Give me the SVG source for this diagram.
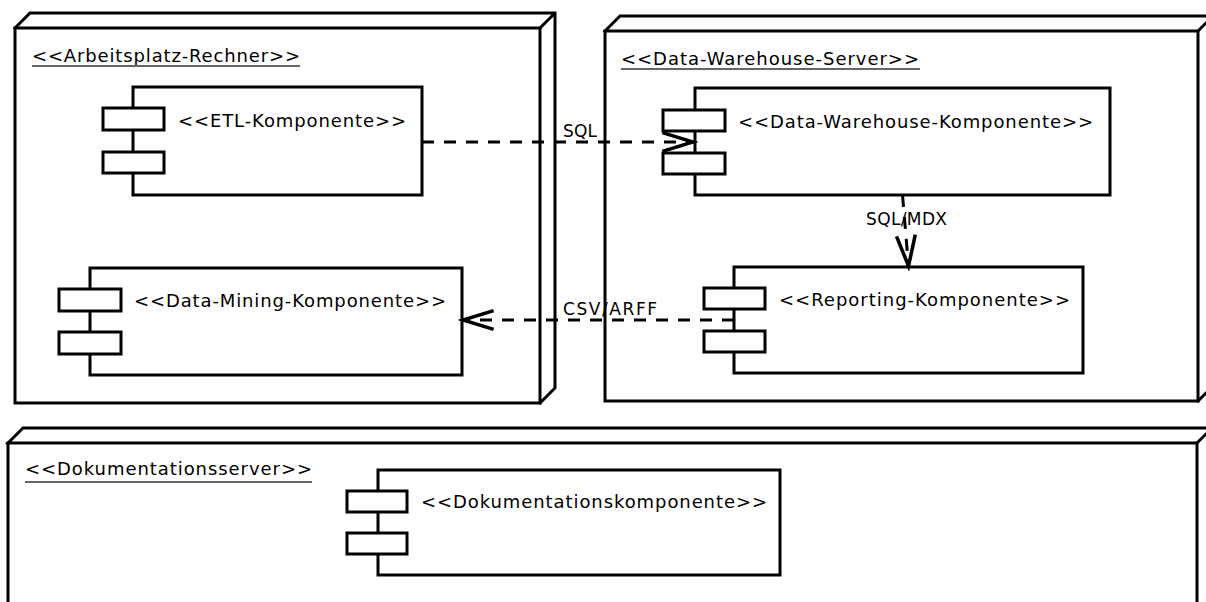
<svg xmlns="http://www.w3.org/2000/svg" width="1206" height="602" viewBox="0 0 1206 602">
  <defs>
    <style>
      .node { fill: #ffffff; stroke: #000000; stroke-width: 3; stroke-linejoin: miter; }
      .comp { fill: #ffffff; stroke: #000000; stroke-width: 3; }
      .stereo { font-family: "DejaVu Sans", Verdana, sans-serif; font-size: 18px; fill: #000000; }
      .uline { stroke: #666666; stroke-width: 2; }
      .ctext { font-family: "DejaVu Sans", Verdana, sans-serif; font-size: 18px; fill: #000000; }
      .label { font-family: "DejaVu Sans", Verdana, sans-serif; font-size: 17px; fill: #000000; }
      .dep { fill: none; stroke: #000000; stroke-width: 3; stroke-dasharray: 12 10; }
    </style>
    <!-- open arrowhead for dependency connectors -->
    <marker id="open" markerUnits="userSpaceOnUse" markerWidth="40" markerHeight="30" viewBox="-30 -12 34 24" refX="0" refY="0" orient="auto">
      <path d="M -26 -8 L 0 0 L -26 8" fill="none" stroke="#000000" stroke-width="3"/>
    </marker>
  </defs>

  <!-- deployment node: workstation -->
  <g id="node-arbeitsplatz">
    <path class="node" d="M15 28 L30 13 L555 13 L555 388 L540 403 Z"/>
    <rect class="node" x="15" y="28" width="525" height="375"/>
    <line class="node" x1="540" y1="28" x2="555" y2="13"/>
    <text class="stereo" x="32" y="62" textLength="268" lengthAdjust="spacing">&lt;&lt;Arbeitsplatz-Rechner&gt;&gt;</text>
    <line class="uline" x1="32" y1="66" x2="300" y2="66"/>
  </g>

  <!-- deployment node: data warehouse server -->
  <g id="node-dwh-server">
    <path class="node" d="M605 31 L620 16 L1213 16 L1213 386 L1198 401 Z"/>
    <rect class="node" x="605" y="31" width="593" height="370"/>
    <line class="node" x1="1198" y1="31" x2="1213" y2="16"/>
    <text class="stereo" x="621" y="65" textLength="298" lengthAdjust="spacing">&lt;&lt;Data-Warehouse-Server&gt;&gt;</text>
    <line class="uline" x1="621" y1="69" x2="920" y2="69"/>
  </g>

  <!-- deployment node: documentation server -->
  <g id="node-doku-server">
    <path class="node" d="M8 443 L23 428 L1212 428 L1212 628 L1197 643 Z"/>
    <rect class="node" x="8" y="443" width="1189" height="200"/>
    <line class="node" x1="1197" y1="443" x2="1212" y2="428"/>
    <text class="stereo" x="25" y="475" textLength="287" lengthAdjust="spacing">&lt;&lt;Dokumentationsserver&gt;&gt;</text>
    <line class="uline" x1="25" y1="482" x2="312" y2="482"/>
  </g>

  <!-- components -->
  <g id="comp-etl">
    <rect class="comp" x="133" y="87" width="289" height="108"/>
    <rect class="comp" x="103" y="108" width="61" height="22"/>
    <rect class="comp" x="103" y="152" width="61" height="21"/>
    <text class="ctext" x="178" y="127" textLength="228" lengthAdjust="spacing">&lt;&lt;ETL-Komponente&gt;&gt;</text>
  </g>

  <g id="comp-dwh">
    <rect class="comp" x="695" y="88" width="415" height="107"/>
    <rect class="comp" x="663" y="110" width="62" height="21"/>
    <rect class="comp" x="663" y="153" width="62" height="21"/>
    <text class="ctext" x="738" y="128" textLength="355" lengthAdjust="spacing">&lt;&lt;Data-Warehouse-Komponente&gt;&gt;</text>
  </g>

  <g id="comp-mining">
    <rect class="comp" x="90" y="268" width="372" height="107"/>
    <rect class="comp" x="59" y="289" width="62" height="22"/>
    <rect class="comp" x="59" y="332" width="62" height="22"/>
    <text class="ctext" x="134" y="307" textLength="312" lengthAdjust="spacing">&lt;&lt;Data-Mining-Komponente&gt;&gt;</text>
  </g>

  <g id="comp-reporting">
    <rect class="comp" x="734" y="267" width="349" height="106"/>
    <rect class="comp" x="704" y="288" width="61" height="21"/>
    <rect class="comp" x="704" y="331" width="61" height="21"/>
    <text class="ctext" x="779" y="306" textLength="291" lengthAdjust="spacing">&lt;&lt;Reporting-Komponente&gt;&gt;</text>
  </g>

  <g id="comp-doku">
    <rect class="comp" x="378" y="470" width="402" height="105"/>
    <rect class="comp" x="347" y="491" width="60" height="21"/>
    <rect class="comp" x="347" y="533" width="60" height="21"/>
    <text class="ctext" x="421" y="508" textLength="346" lengthAdjust="spacing">&lt;&lt;Dokumentationskomponente&gt;&gt;</text>
  </g>

  <!-- dependency connectors -->
  <g id="connectors">
    <line class="dep" x1="422" y1="142" x2="693" y2="142" marker-end="url(#open)"/>
    <text class="label" x="563" y="137" textLength="34" lengthAdjust="spacing">SQL</text>

    <line class="dep" x1="902.5" y1="195" x2="908.5" y2="266" marker-end="url(#open)"/>
    <text class="label" x="866" y="225" textLength="81" lengthAdjust="spacing">SQL/MDX</text>

    <line class="dep" x1="734" y1="320" x2="463" y2="320" marker-end="url(#open)"/>
    <text class="label" x="563" y="315" textLength="94" lengthAdjust="spacing">CSV/ARFF</text>
  </g>
</svg>
